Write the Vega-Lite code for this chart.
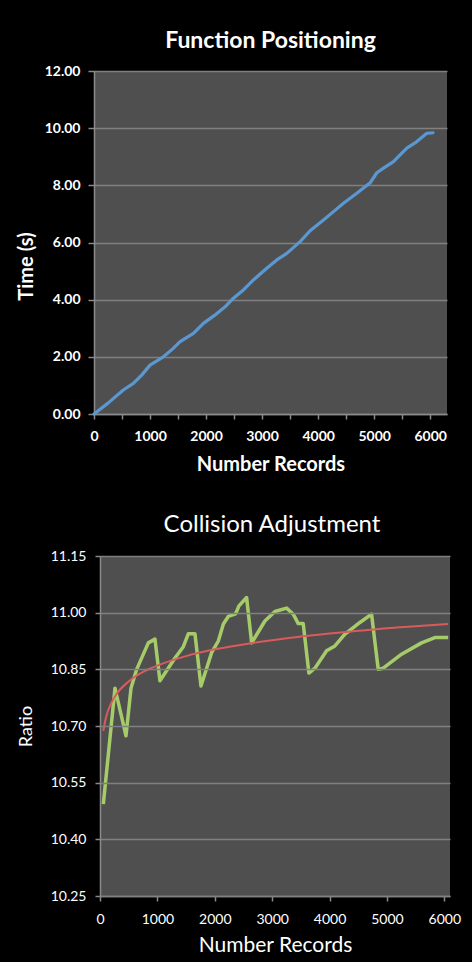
{
  "$schema": "https://vega.github.io/schema/vega-lite/v6.json",
  "background": "#000000",
  "padding": {"left": 16, "top": 30, "right": 14, "bottom": 8},
  "spacing": 39,
  "datasets": {
    "fp": [
      {"records": 0, "time": 0.0},
      {"records": 250, "time": 0.38},
      {"records": 523, "time": 0.84},
      {"records": 702, "time": 1.07},
      {"records": 851, "time": 1.36},
      {"records": 1000, "time": 1.71},
      {"records": 1238, "time": 2.0},
      {"records": 1400, "time": 2.27},
      {"records": 1536, "time": 2.53},
      {"records": 1774, "time": 2.82},
      {"records": 1952, "time": 3.17},
      {"records": 2150, "time": 3.45},
      {"records": 2339, "time": 3.75},
      {"records": 2488, "time": 4.05},
      {"records": 2667, "time": 4.34},
      {"records": 2845, "time": 4.69},
      {"records": 3083, "time": 5.10},
      {"records": 3262, "time": 5.39},
      {"records": 3440, "time": 5.62},
      {"records": 3679, "time": 6.03},
      {"records": 3857, "time": 6.41},
      {"records": 4095, "time": 6.79},
      {"records": 4274, "time": 7.08},
      {"records": 4452, "time": 7.37},
      {"records": 4690, "time": 7.72},
      {"records": 4929, "time": 8.09},
      {"records": 5048, "time": 8.44},
      {"records": 5167, "time": 8.60},
      {"records": 5345, "time": 8.83},
      {"records": 5583, "time": 9.30},
      {"records": 5762, "time": 9.53},
      {"records": 5940, "time": 9.82},
      {"records": 6050, "time": 9.84}
    ],
    "ratio": [
      {"records": 58, "ratio": 10.493},
      {"records": 261, "ratio": 10.80},
      {"records": 453, "ratio": 10.674},
      {"records": 540, "ratio": 10.80},
      {"records": 639, "ratio": 10.85},
      {"records": 842, "ratio": 10.92},
      {"records": 958, "ratio": 10.93},
      {"records": 1045, "ratio": 10.82},
      {"records": 1307, "ratio": 10.88},
      {"records": 1452, "ratio": 10.91},
      {"records": 1539, "ratio": 10.944},
      {"records": 1655, "ratio": 10.944},
      {"records": 1760, "ratio": 10.806},
      {"records": 1945, "ratio": 10.894},
      {"records": 2062, "ratio": 10.925},
      {"records": 2150, "ratio": 10.97},
      {"records": 2236, "ratio": 10.99},
      {"records": 2364, "ratio": 10.997},
      {"records": 2422, "ratio": 11.018},
      {"records": 2555, "ratio": 11.04},
      {"records": 2643, "ratio": 10.92},
      {"records": 2874, "ratio": 10.978},
      {"records": 3049, "ratio": 11.003},
      {"records": 3252, "ratio": 11.012},
      {"records": 3368, "ratio": 10.996},
      {"records": 3455, "ratio": 10.971},
      {"records": 3542, "ratio": 10.971},
      {"records": 3641, "ratio": 10.84},
      {"records": 3746, "ratio": 10.853},
      {"records": 3949, "ratio": 10.899},
      {"records": 4094, "ratio": 10.912},
      {"records": 4268, "ratio": 10.943},
      {"records": 4326, "ratio": 10.95},
      {"records": 4530, "ratio": 10.974},
      {"records": 4733, "ratio": 10.996},
      {"records": 4849, "ratio": 10.85},
      {"records": 4936, "ratio": 10.853},
      {"records": 5256, "ratio": 10.89},
      {"records": 5604, "ratio": 10.92},
      {"records": 5836, "ratio": 10.934},
      {"records": 6068, "ratio": 10.934}
    ],
    "trend": [
      {"records": 58, "ratio": 10.687},
      {"records": 100, "ratio": 10.720},
      {"records": 200, "ratio": 10.762},
      {"records": 300, "ratio": 10.787},
      {"records": 500, "ratio": 10.818},
      {"records": 750, "ratio": 10.843},
      {"records": 1000, "ratio": 10.860},
      {"records": 1500, "ratio": 10.885},
      {"records": 2000, "ratio": 10.903},
      {"records": 2500, "ratio": 10.916},
      {"records": 3000, "ratio": 10.927},
      {"records": 3500, "ratio": 10.937},
      {"records": 4000, "ratio": 10.945},
      {"records": 4500, "ratio": 10.952},
      {"records": 5000, "ratio": 10.959},
      {"records": 5500, "ratio": 10.964},
      {"records": 6068, "ratio": 10.970}
    ]
  },
  "config": {
    "view": {"fill": "#4f4f4f", "stroke": null},
    "axis": {
      "domainColor": "#8a8a8a",
      "domainWidth": 1.5,
      "tickColor": "#8a8a8a",
      "tickWidth": 1.5,
      "tickSize": 6,
      "gridColor": "#808080",
      "gridWidth": 1.5,
      "labelColor": "#ffffff",
      "titleColor": "#ffffff",
      "labelFont": "Lato",
      "titleFont": "Lato"
    },
    "title": {"color": "#ffffff", "font": "Lato"}
  },
  "vconcat": [
    {
      "width": 353,
      "height": 343,
      "title": {"text": "Function Positioning", "fontSize": 23, "fontWeight": "bold", "baseline": "alphabetic", "offset": -7, "anchor": "middle"},
      "data": {"name": "fp"},
      "mark": {"type": "line", "color": "#5b97d0", "strokeWidth": 3.2, "strokeJoin": "round", "strokeCap": "round"},
      "encoding": {
        "x": {
          "field": "records", "type": "quantitative",
          "scale": {"domain": [0, 6300], "nice": false},
          "axis": {
            "title": "Number Records", "titleFontSize": 20, "titleFontWeight": "bold", "titlePadding": 11,
            "values": [0, 500, 1000, 1500, 2000, 2500, 3000, 3500, 4000, 4500, 5000, 5500, 6000],
            "labelExpr": "datum.value % 1000 == 0 ? datum.label : ''",
            "format": "d",
            "labelFontSize": 14, "labelFontWeight": "bold", "labelPadding": 10, "tickSize": 5,
            "grid": false, "labelFlush": false
          }
        },
        "y": {
          "field": "time", "type": "quantitative",
          "scale": {"domain": [0, 12], "nice": false},
          "axis": {
            "title": "Time (s)", "titleFontSize": 20, "titleFontWeight": "bold", "titlePadding": 8, "titleY": 195,
            "values": [0, 2, 4, 6, 8, 10, 12], "format": ".2f",
            "labelFontSize": 14, "labelFontWeight": "bold", "labelPadding": 8,
            "minExtent": 50, "maxExtent": 50, "grid": true
          }
        }
      }
    },
    {
      "width": 356,
      "height": 340,
      "title": {"text": "Collision Adjustment", "fontSize": 24, "fontWeight": "normal", "baseline": "alphabetic", "offset": -7, "anchor": "middle"},
      "layer": [
        {
          "data": {"values": [{}]},
          "mark": {"type": "rect", "color": "#000000", "clip": true},
          "encoding": {
            "x": {"datum": -300, "type": "quantitative"},
            "x2": {"datum": 0},
            "y": {"datum": 10.25, "type": "quantitative"},
            "y2": {"datum": 11.15}
          }
        },
        {
          "data": {"name": "ratio"},
          "mark": {"type": "line", "color": "#a6cc6a", "strokeWidth": 3.5, "strokeJoin": "round"},
          "encoding": {
            "x": {
              "field": "records", "type": "quantitative",
              "scale": {"domain": [0, 6100], "nice": false, "range": [6, 356]},
              "axis": {
                "title": "Number Records", "titleFontSize": 21, "titleFontWeight": "normal", "titlePadding": 8,
                "values": [0, 500, 1000, 1500, 2000, 2500, 3000, 3500, 4000, 4500, 5000, 5500, 6000],
                "labelExpr": "datum.value % 1000 == 0 ? datum.label : ''",
                "format": "d",
                "labelFontSize": 14, "labelPadding": 11, "tickSize": 5,
                "grid": false, "labelFlush": false
              }
            },
            "y": {
              "field": "ratio", "type": "quantitative",
              "scale": {"domain": [10.25, 11.15], "nice": false, "zero": false},
              "axis": {
                "title": "Ratio", "titleFontSize": 18, "titleFontWeight": "normal", "titlePadding": 15,
                "values": [10.25, 10.4, 10.55, 10.7, 10.85, 11.0, 11.15], "format": ".2f",
                "labelFontSize": 14, "labelPadding": 9, "tickSize": 5, "offset": -6, "zindex": 1,
                "minExtent": 50, "maxExtent": 50, "grid": true
              }
            }
          }
        },
        {
          "data": {"name": "trend"},
          "mark": {"type": "line", "color": "#d95b5b", "strokeWidth": 2, "interpolate": "monotone"},
          "encoding": {
            "x": {"field": "records", "type": "quantitative"},
            "y": {"field": "ratio", "type": "quantitative"}
          }
        }
      ]
    }
  ]
}
